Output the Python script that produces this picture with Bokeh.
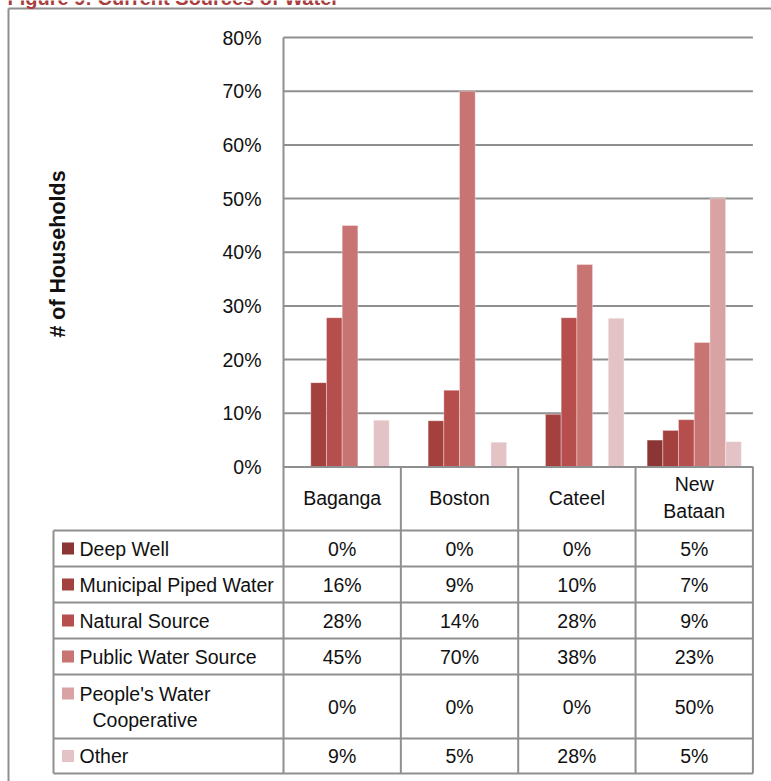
from math import pi
from bokeh.plotting import figure
from bokeh.models import Range1d
from bokeh.core.properties import value
from bokeh.embed import file_html
from bokeh.resources import INLINE

# ---------------- data ----------------
title = "Figure 9: Current Sources of Water"
y_label = "# of Households"
categories = ["Baganga", "Boston", "Cateel", "New Bataan"]
series = ["Deep Well", "Municipal Piped Water", "Natural Source",
          "Public Water Source", "People's Water Cooperative", "Other"]
deep_well = [0.0, 0.0, 0.0, 5.0]
municipal_piped = [15.7, 8.6, 9.8, 6.8]
natural_source = [27.8, 14.3, 27.8, 8.8]
public_source = [45.0, 70.0, 37.7, 23.2]
peoples_coop = [0.0, 0.0, 0.0, 50.0]
other = [8.7, 4.6, 27.7, 4.7]
y_ticks = [0, 10, 20, 30, 40, 50, 60, 70, 80]
y_tick_labels = [f"{t}%" for t in y_ticks]
colors = ["#8b3535", "#a4413f", "#b54e4c", "#c87473", "#d9a3a3", "#e3c3c6"]
values = [deep_well, municipal_piped, natural_source, public_source, peoples_coop, other]

# ---------------- layout ----------------
W, H = 771, 781
FONT = "Liberation Sans"
FS = "19.5px"
GX0, GW = 283.0, 117.35          # pixel of first group edge, pixels per group
Y0, PPU = 466.4, 5.3663           # pixel of 0%, pixels per percent
LINE = "#8f8f8f"
TXT = "#111111"

p = figure(width=W, height=H, x_range=Range1d(0, W), y_range=Range1d(H, 0),
           output_backend="svg", toolbar_location=None, min_border=0,
           x_axis_type=None, y_axis_type=None)
p.outline_line_color = None
p.background_fill_color = "white"
p.extra_x_ranges = {"grp": Range1d((0 - GX0) / GW, (W - GX0) / GW)}
p.extra_y_ranges = {"pct": Range1d((Y0 - H) / PPU, Y0 / PPU)}

n = len(categories)
nseries = len(series)
bw = 15.7 / GW

# outer frame + title
p.segment(x0=[8, 8], y0=[8, 8], x1=[8, W], y1=[H, 8], line_color=LINE, line_width=2)
p.text(x=[7], y=[-2.5], text=[title], text_font=value(FONT), text_font_size="20px",
       text_font_style="bold", text_color="#a83e3e", text_baseline="alphabetic")

# grid lines
p.segment(x0=[0] * (len(y_ticks) - 1), x1=[n] * (len(y_ticks) - 1),
          y0=y_ticks[1:], y1=y_ticks[1:], line_color=LINE, line_width=2,
          x_range_name="grp", y_range_name="pct")

# bars
for i, (vals, col) in enumerate(zip(values, colors)):
    xs = [g + 0.5 + (i - (nseries - 1) / 2) * bw for g in range(n)]
    p.vbar(x=xs, top=vals, bottom=0, width=bw, fill_color=col,
           line_color="white", line_alpha=0.35, line_width=1,
           x_range_name="grp", y_range_name="pct")

# axis lines
p.segment(x0=[0, 0], x1=[0, n], y0=[y_ticks[-1], 0], y1=[0, 0], line_color=LINE,
          line_width=2, x_range_name="grp", y_range_name="pct")

# y tick labels
p.text(x=[261] * len(y_ticks), y=y_ticks, text=y_tick_labels, text_font=value(FONT),
       text_font_size=FS, text_align="right", text_baseline="middle",
       text_color=TXT, y_range_name="pct")

# y axis title
p.text(x=[57], y=[253.5], text=[y_label], angle=pi / 2, text_font=value(FONT),
       text_font_size="21.5px", text_font_style="bold", text_align="center",
       text_baseline="middle", text_color=TXT)

# ---------------- data table ----------------
header_top, header_bot = 466, 530
row_lines = [530, 566, 602, 638, 674, 738, 773]
leg_left = 53
# horizontal lines
p.segment(x0=[leg_left] * len(row_lines), x1=[GX0 + n * GW] * len(row_lines),
          y0=row_lines, y1=row_lines, line_color=LINE, line_width=2)
# vertical lines
p.segment(x0=list(range(n + 1)), x1=list(range(n + 1)), y0=[header_top] * (n + 1),
          y1=[row_lines[-1]] * (n + 1), line_color=LINE, line_width=2, x_range_name="grp")
p.segment(x0=[leg_left], x1=[leg_left], y0=[header_bot], y1=[row_lines[-1]],
          line_color=LINE, line_width=2)

# header (category names)
p.text(x=[g + 0.5 for g in range(n)], y=[(header_top + header_bot) / 2 - 1] * n,
       text=[c.replace(" ", "\n") for c in categories], text_font=value(FONT),
       text_font_size=FS, text_align="center", text_baseline="middle",
       text_line_height=1.22, text_color=TXT, x_range_name="grp")

row_centers = [(row_lines[k] + row_lines[k + 1]) / 2 for k in range(nseries)]
for k, (name, vals, col) in enumerate(zip(series, values, colors)):
    yc = row_centers[k]
    lines = ["People's Water", "Cooperative"] if name == "People's Water Cooperative" else [name]
    off = 13 if len(lines) > 1 else 0
    p.rect(x=[67.5], y=[yc - off], width=12, height=12, fill_color=col, line_color=None)
    p.text(x=[79], y=[yc - off], text=[lines[0]], text_font=value(FONT), text_font_size=FS,
           text_baseline="middle", text_color=TXT)
    if len(lines) > 1:
        p.text(x=[92], y=[yc + off], text=[lines[1]], text_font=value(FONT),
               text_font_size=FS, text_baseline="middle", text_color=TXT)
    p.text(x=[g + 0.5 for g in range(n)], y=[yc] * n, text=[f"{round(v)}%" for v in vals],
           text_font=value(FONT), text_font_size=FS, text_align="center",
           text_baseline="middle", text_color=TXT, x_range_name="grp")

open("out.html", "w").write(file_html(p, INLINE))
